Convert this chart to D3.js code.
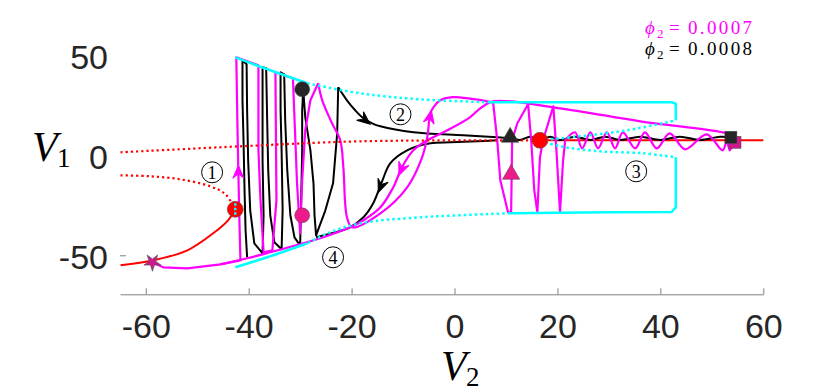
<!DOCTYPE html>
<html>
<head>
<meta charset="utf-8">
<script src="https://d3js.org/d3.v7.min.js"></script>
<style>
  body { margin: 0; background: #fff; }
</style>
</head>
<body>
<svg id="chart"></svg>
<script>
let w = 830;
let h = 391;

// tick values
const xTicks = [-60, -40, -20, 0, 20, 40, 60];
const yTicks = [-50, 0, 50];

// red branch of equilibria: solid = stable, dotted = unstable
const redSolidLeft = [[-64.9,-55],[-58.5,-52.5],[-51.9,-47.5],[-46.9,-39],[-44.0,-32.5],[-42.6,-27]];
const redSolidRight = [[16.6,7.5],[60,7.5]];
const redDotUpper = [[-64.9,1.5],[-41.6,4.5],[-18.3,7],[16.6,7.5]];
const redDotLower = [[-64.9,-10],[-59.1,-10.5],[-53.3,-12],[-47.5,-15.5],[-44.5,-19.5],[-42.6,-27]];

// cyan envelope of periodic orbits
const cyanTopStable = [[-42.6,49],[-35.8,42.5],[-28.6,36]];
const cyanTopUnstable = [[-28.6,36],[-18.3,31],[-6.7,28],[6.9,26.5]];
const cyanRightTop = [[6.9,26.5],[42.2,26.5],[43,25.8],[43,17.5]];
const cyanInnerUpper = [[16.6,7.5],[24.4,9.5],[33.5,12.5],[43,17.5]];
const cyanInnerLower = [[16.6,7.5],[20.5,4.5],[28.3,2],[36.6,1],[43,-1]];
const cyanRightBottom = [[43,-1],[43,-26],[42.2,-28.3],[30,-28.5],[10.8,-29]];
const cyanBottomUnstable = [[10.8,-29],[-6.7,-31],[-18.3,-34],[-24.2,-38.5],[-28.6,-44]];
const cyanBottomStable = [[-28.6,-44],[-35.8,-50.5],[-42.6,-56]];
const cyanTick = [[-42.6,-24],[-42.6,-30]];

// phi2 = 0.0008 trajectory (black): relaxation spikes, then the smooth part
const blackSpikes = [[-40.3,-51],[-40.6,-37.5],[-40.8,-17.5],[-41.0,7.5],[-41.2,27.5],[-41.2,47.5],
  [-40.4,45.5],[-40.3,22.5],[-40.1,-2.5],[-39.7,-27.5],[-38.9,-44],[-37.3,-49],
  [-37.1,-30],[-37.3,-2.5],[-37.3,22.5],[-37.3,44],
  [-36.6,43.5],[-36.4,17.5],[-36.2,-7.5],[-35.8,-30],[-35.0,-43.5],[-33.6,-47],
  [-33.4,-27.5],[-33.6,2.5],[-33.8,22.5],[-33.8,41.5],
  [-33.1,40.5],[-32.9,17.5],[-32.5,-7.5],[-31.9,-30],[-31.1,-41],[-30.0,-45],
  [-29.8,-22.5],[-29.6,2.5],[-29.6,22.5],[-29.4,33],
  [-29.0,19],[-28.0,2.5],[-27.4,-14],[-27.2,-30],[-26.9,-40],
  [-25.1,-27.5],[-23.6,-14],[-22.8,11],[-22.6,34]];
const blackMain = [[-22.6,34],
  [-20.9,27.5],[-19.3,22.5],[-17.7,18.5],[-16.0,16],[-14.4,14.5],[-8.0,11.5],[1.7,10],[8.3,9],
  [10.8,8.5],[12.7,7.7],[14.7,9.3],[16.6,7.7],[18.6,9.3],[20.5,7.7],[23.4,9.3],[26.4,7.7],
  [29.3,9.3],[32.2,7.7],[36.1,9.3],[40,7.7],[43.8,9.3],[47.7,7.7],[51.6,9.3],[53.7,9]];
const blackReturn = [[8.3,7.5],[4.4,7],[-0.8,6.5],[-4.7,6],[-9.2,2.5],[-12.5,-4],[-14.0,-12.5],
  [-15.8,-24],[-17.7,-31],[-20.3,-36],[-23.2,-38.5],[-26.9,-41]];

// phi2 = 0.0007 trajectory (magenta)
const magentaSpikes = [[-58.7,-53.5],[-56.6,-56],[-51.9,-56.5],[-45.5,-54.5],[-41.6,-52.5],
  [-41.8,-32.5],[-42.0,-8.5],[-42.2,17.5],[-42.4,49],
  [-38.1,45],[-38.1,2.5],[-37.7,-22.5],[-37.1,-48.5],
  [-35.4,-47.5],[-34.6,-22.5],[-34.8,41.5],
  [-31.4,38.5],[-31.0,12.5],[-30.6,-14],[-30.0,-39],
  [-29.6,-12.5],[-29.0,12.5],[-28.0,27.5],[-26.5,36]];
const magentaMain = [[-26.5,36],
  [-25.7,27.5],[-23.8,16],[-22.2,7.5],[-21.6,-6],[-20.9,-31],[-19.9,-36],
  [-14.4,-29],[-9.2,-16],[-6.3,-1],[-5.3,9],[-4.7,21],[-4.1,24],[-2.8,27.5],[-0.8,29],[7.5,26.5]];
const magentaDrops = [[7.5,26.5],
  [8.3,7.5],[8.9,-12.5],[10.4,-28.5],[11.0,-28.5],[11.2,7.5],[12.2,16],[14.3,25.5],
  [14.9,7.5],[15.5,-17.5],[16.1,-28.5],[16.6,-1],[17.2,7.5],[19.2,24.5],
  [19.8,2.5],[20.5,-28.5],[21.1,-2.5],[21.5,7.5]];
const magentaWiggle = [[21.5,7.5],
  [23.4,11.5],[24.8,3.5],[26.4,11.5],[27.9,3.5],[29.6,11.5],[31.2,3.5],[32.7,11.5],[35.1,3.5],
  [37.0,11.5],[39.3,3.5],[41.8,11],[44.8,3],[49.0,10.5],[52.1,2.5],[52.9,7],[53.5,2.5],[54.1,6]];
const magentaReturn = [[54.1,9.5],[52.9,11],[36.1,17],[20.5,23.5],[7.5,27],[5.0,23.5],[3.0,19],
  [-1.4,12.5],[-5.3,7.5],[-8.0,2.5],[-10.2,-6],[-11.9,-16],[-14.4,-26],[-17.7,-32.5],[-20.3,-36],
  [-26.1,-41.5],[-29.4,-44],[-35.8,-48.5],[-40.3,-51.5],[-45.5,-54.5]];

// arrows: [from, tip]
const arrows = [
  {from: [-42.0,-12.5], tip: [-42.0,-5], color: '#ff00ff'},
  {from: [-18.3,19.5], tip: [-16.4,15.5], color: '#000'},
  {from: [-5.1,15], tip: [-4.5,22.5], color: '#ff00ff'},
  {from: [-9.6,-2.5], tip: [-10.8,-10], color: '#ff00ff'},
  {from: [-13.5,-10], tip: [-14.8,-18.5], color: '#000'}
];

// markers
const redPoints = [[-42.6,-27],[16.6,7.5]];
const startPoints = [[-29.6,33],[-29.6,-30]];
const trianglePoints = [[10.8,8.5],[11,-10]];
const squarePoints = [[54.5,6.5],[53.7,9]];
const starPoint = [-58.7,-53.5];

// circled region labels
const regionLabels = [
  {n: '1', pos: [-47.1,-8.5]},
  {n: '2', pos: [-10.5,20.5]},
  {n: '3', pos: [35.3,-8]},
  {n: '4', pos: [-23.6,-51]}
];

const legendLabels = ['0.0007', '0.0008'];
const legendColors = ['#ff00ff', '#000000'];

const x = d3.scaleLinear().domain([-65, 60]).range([120, 763.3]);
const y = d3.scaleLinear().domain([-69.5, 65]).range([294.3, 25.3]);

const svg = d3.select('#chart')
  .attr('width', w)
  .attr('height', h);

const serif = '"Liberation Serif", "DejaVu Serif", serif';
const smooth = d3.curveCatmullRom.alpha(0.5);

//draw a curve through points
function drawPath(data, color, width, dash, curve) {
  let line = d3.line()
    .x((d) => x(d[0]))
    .y((d) => y(d[1]))
    .curve(curve || smooth);
  svg.append('path')
    .datum(data)
    .attr('d', line)
    .attr('fill', 'none')
    .attr('stroke', color)
    .attr('stroke-width', width)
    .attr('stroke-linejoin', 'round')
    .attr('stroke-dasharray', dash || null);
}

function createGraph() {

  //axes
  let xAxis = svg.append('g')
    .attr('transform', `translate(0,${y(-69.5)})`)
    .call(d3.axisBottom(x).tickValues(xTicks).tickSizeInner(-6).tickSizeOuter(0).tickFormat((d) => String(d)));
  xAxis.select('.domain').attr('stroke', '#808080');
  xAxis.selectAll('.tick line').attr('stroke', '#808080');
  xAxis.selectAll('.tick text')
    .attr('y', 44).attr('dy', 0)
    .attr('fill', '#262626')
    .style('font-family', '"Liberation Sans", Arial, sans-serif')
    .style('font-size', '34px');

  let yAxis = svg.append('g')
    .attr('transform', `translate(${x(-65)},0)`)
    .call(d3.axisLeft(y).tickValues(yTicks).tickSizeInner(-6).tickSizeOuter(0).tickFormat((d) => String(d)));
  yAxis.select('.domain').remove();
  yAxis.selectAll('.tick line').attr('stroke', '#808080').attr('stroke-opacity', (d) => d === -50 ? 1 : 0);
  yAxis.selectAll('.tick text')
    .attr('x', -12).attr('dy', 13)
    .attr('fill', '#262626')
    .style('font-family', '"Liberation Sans", Arial, sans-serif')
    .style('font-size', '34px');

  //axis labels
  svg.append('text').attr('x', 32).attr('y', 161).text('V')
    .style('font-family', serif).style('font-style', 'italic').style('font-size', '42px');
  svg.append('text').attr('x', 57).attr('y', 167).text('1')
    .style('font-family', serif).style('font-size', '27px');
  svg.append('text').attr('x', 441).attr('y', 380).text('V')
    .style('font-family', serif).style('font-style', 'italic').style('font-size', '42px');
  svg.append('text').attr('x', 466).attr('y', 386).text('2')
    .style('font-family', serif).style('font-size', '27px');

  //red branch
  drawPath(redSolidLeft, '#ff0000', 2);
  drawPath(redSolidRight, '#ff0000', 2, null, d3.curveLinear);

  //trajectories
  drawPath(blackSpikes, '#000', 2, null, d3.curveLinear);
  drawPath(blackMain, '#000', 2);
  drawPath(blackReturn, '#000', 2);
  drawPath(magentaSpikes, '#ff00ff', 2.2, null, d3.curveLinear);
  drawPath(magentaMain, '#ff00ff', 2.2);
  drawPath(magentaDrops, '#ff00ff', 2.2, null, d3.curveLinear);
  drawPath(magentaWiggle, '#ff00ff', 2.2);
  drawPath(magentaReturn, '#ff00ff', 2.2);

  //cyan envelope
  const cy = '#00ffff';
  drawPath(cyanTopStable, cy, 2.5);
  drawPath(cyanTopUnstable, cy, 2.5, '2.5,3');
  drawPath(cyanRightTop, cy, 2.5, null, d3.curveLinear);
  drawPath(cyanInnerUpper, cy, 2.5, '2.5,3');
  drawPath(cyanInnerLower, cy, 2.5, '2.5,3');
  drawPath(cyanRightBottom, cy, 2.5, null, d3.curveLinear);
  drawPath(cyanBottomUnstable, cy, 2.5, '2.5,3');
  drawPath(cyanBottomStable, cy, 2.5);

  //unstable red branches
  drawPath(redDotUpper, '#ff0000', 2.2, '2.2,3');
  drawPath(redDotLower, '#ff0000', 2.2, '2.2,3');

  //arrowheads
  arrows.forEach((a) => {
    let ang = Math.atan2(y(a.tip[1]) - y(a.from[1]), x(a.tip[0]) - x(a.from[0])) * 180 / Math.PI;
    svg.append('path')
      .attr('d', 'M0,0 L-13,-5.5 L-8.5,0 L-13,5.5 Z')
      .attr('fill', a.color)
      .attr('stroke', a.color)
      .attr('stroke-width', 1)
      .attr('transform', `translate(${x(a.tip[0])},${y(a.tip[1])}) rotate(${ang})`);
  });

  //markers
  svg.selectAll('circle.eq')
    .data(redPoints).enter().append('circle')
    .attr('class', 'eq')
    .attr('cx', (d) => x(d[0])).attr('cy', (d) => y(d[1])).attr('r', 8)
    .attr('fill', '#ff0000').attr('stroke', '#555').attr('stroke-width', 0.6);
  drawPath(cyanTick, cy, 2.5, '2.5,2', d3.curveLinear);

  svg.selectAll('circle.start')
    .data(startPoints).enter().append('circle')
    .attr('class', 'start')
    .attr('cx', (d) => x(d[0])).attr('cy', (d) => y(d[1])).attr('r', 7.5)
    .attr('fill', (d, i) => i === 0 ? '#262626' : '#ee1a8c')
    .attr('stroke', '#444').attr('stroke-width', 0.5);

  svg.selectAll('path.tri')
    .data(trianglePoints).enter().append('path')
    .attr('class', 'tri')
    .attr('d', d3.symbol(d3.symbolTriangle, 130))
    .attr('transform', (d) => `translate(${x(d[0])},${y(d[1]) - 1})`)
    .attr('fill', (d, i) => i === 0 ? '#262626' : '#ee1a8c')
    .attr('stroke', '#444').attr('stroke-width', 0.5);

  svg.selectAll('rect.sq')
    .data(squarePoints).enter().append('rect')
    .attr('class', 'sq')
    .attr('x', (d) => x(d[0]) - 6).attr('y', (d) => y(d[1]) - 6)
    .attr('width', 12).attr('height', 12)
    .attr('fill', (d, i) => i === 0 ? '#cc1a8c' : '#262626')
    .attr('stroke', '#444').attr('stroke-width', 0.5);

  svg.append('path')
    .attr('d', d3.symbol(d3.symbolStar, 90))
    .attr('transform', `translate(${x(starPoint[0])},${y(starPoint[1])}) rotate(36)`)
    .attr('fill', '#cc1a8c').attr('stroke', '#555').attr('stroke-width', 0.6);

  //circled numbers
  let rl = svg.selectAll('g.region')
    .data(regionLabels).enter().append('g')
    .attr('class', 'region')
    .attr('transform', (d) => `translate(${x(d.pos[0])},${y(d.pos[1])})`);
  rl.append('circle').attr('r', 10.5).attr('fill', 'none').attr('stroke', '#000').attr('stroke-width', 1);
  rl.append('text').text((d) => d.n)
    .attr('text-anchor', 'middle').attr('y', 6.5)
    .style('font-family', serif)
    .style('font-size', '18px');

  //legend
  legendLabels.forEach((lab, i) => {
    let yy = 34 + i * 21;
    svg.append('text').attr('x', 645).attr('y', yy).text('\u03D5')
      .attr('fill', legendColors[i])
      .style('font-family', serif).style('font-style', 'italic').style('font-size', '19px');
    svg.append('text').attr('x', 657).attr('y', yy + 4).text('2')
      .attr('fill', legendColors[i])
      .style('font-family', serif).style('font-size', '13px');
    svg.append('text').attr('x', 669).attr('y', yy).text('=')
      .attr('fill', legendColors[i])
      .style('font-family', serif).style('font-size', '19px');
    svg.append('text').attr('x', 688).attr('y', yy).text(lab)
      .attr('fill', legendColors[i])
      .attr('textLength', 64)
      .style('font-family', serif)
      .style('font-size', '19px');
  });
}

createGraph();
</script>
</body>
</html>
